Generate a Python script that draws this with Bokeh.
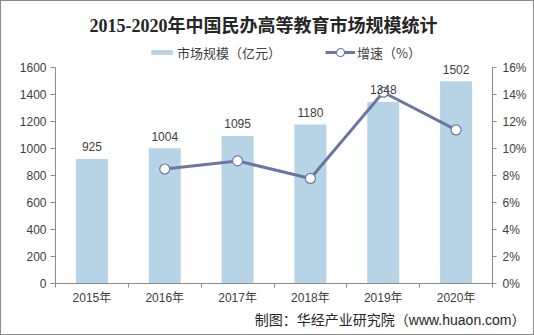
from bokeh.plotting import figure
from bokeh.models import (Range1d, LinearAxis, FixedTicker, PrintfTickFormatter,
                          ColumnDataSource, LabelSet, Label, Legend, LegendItem, Title)
from bokeh.core.properties import value
from bokeh.embed import file_html
from bokeh.resources import INLINE

# ---- data ----
years = ["2015年", "2016年", "2017年", "2018年", "2019年", "2020年"]
market = [925, 1004, 1095, 1180, 1348, 1502]          # 市场规模（亿元）
growth_years = ["2016年", "2017年", "2018年", "2019年", "2020年"]
growth = [8.5, 9.1, 7.8, 14.2, 11.4]                    # 增速（%）
left_ticks = [0, 200, 400, 600, 800, 1000, 1200, 1400, 1600]
right_ticks = [0, 2, 4, 6, 8, 10, 12, 14, 16]

BAR = "#b7d3e6"
LINE = "#6c77a1"
AX = "#8c8c8c"
TXT = "#404040"
FONT = "Liberation Sans, Noto Sans CJK SC"
CJK = "Noto Sans CJK SC"

# layout (page pixels; page has a 1px border)
FL, FR, FB, FT = 55, 490, 281, 2      # frame edges
AXIS_TOP = 67                          # where the top tick sits
scale = (FB - FT) / (FB - AXIS_TOP)

xpos = [i + 0.5 for i in range(len(years))]
gpos = [years.index(y) + 0.5 for y in growth_years]

p = figure(width=534, height=335, output_backend="svg", toolbar_location=None,
           title_location=None,
           x_range=Range1d(0, len(years)),
           y_range=Range1d(left_ticks[0], left_ticks[-1] * scale),
           min_border_left=FL - 1, min_border_right=533 - FR, min_border_top=FT - 1,
           min_border_bottom=334 - FB,
           background_fill_color="white", border_fill_color="white")
p.outline_line_color = None
p.xgrid.visible = False
p.ygrid.visible = False
p.extra_y_ranges = {"pct": Range1d(right_ticks[0], right_ticks[-1] * scale)}

bar_src = ColumnDataSource(dict(x=xpos, top=market, lab=[str(v) for v in market]))
bars = p.vbar(x="x", top="top", width=0.44, source=bar_src, fill_color=BAR, line_color=None)

line_src = ColumnDataSource(dict(x=gpos, y=growth))
ln = p.line(x="x", y="y", source=line_src, y_range_name="pct", line_color=LINE, line_width=3)
pts = p.scatter(x="x", y="y", source=line_src, y_range_name="pct", size=10,
                fill_color="white", line_color=LINE, line_width=1.2)

labels = LabelSet(x="x", y="top", text="lab", source=bar_src, text_align="center",
                  text_baseline="middle", y_offset=12, text_font_size=value("12px"),
                  text_font=value(FONT), text_color=TXT)
p.add_layout(labels)

# axes
xa = p.xaxis[0]
xa.ticker = FixedTicker(ticks=xpos, minor_ticks=list(range(len(years) + 1)))
xa.major_label_overrides = {x: y for x, y in zip(xpos, years)}
xa.major_tick_out = 0
xa.major_tick_in = 0
xa.minor_tick_out = 4
xa.minor_tick_in = 0
xa.major_label_standoff = 3
xa.axis_line_color = AX
xa.minor_tick_line_color = AX
xa.major_label_text_font = FONT
xa.major_label_text_font_size = "12px"
xa.major_label_text_color = TXT

ya = p.yaxis[0]
ya.ticker = FixedTicker(ticks=left_ticks)
ya.bounds = (left_ticks[0], left_ticks[-1])
ya.major_tick_out = 5
ya.major_tick_in = 0
ya.minor_tick_line_color = None
ya.major_label_standoff = 4
ya.axis_line_color = AX
ya.major_tick_line_color = AX
ya.major_label_text_font = FONT
ya.major_label_text_font_size = "12px"
ya.major_label_text_color = TXT

ra = LinearAxis(y_range_name="pct", ticker=FixedTicker(ticks=right_ticks),
                formatter=PrintfTickFormatter(format="%d%%"),
                bounds=(right_ticks[0], right_ticks[-1]))
ra.major_tick_out = 4
ra.major_tick_in = 0
ra.minor_tick_line_color = None
ra.major_label_standoff = 6
ra.axis_line_color = AX
ra.major_tick_line_color = AX
ra.major_label_text_font = FONT
ra.major_label_text_font_size = "12px"
ra.major_label_text_color = TXT
p.add_layout(ra, "right")


def sx(cx):
    return cx - FL


def sy(cy):
    return FB - cy


# legends (location = bottom-left corner relative to the frame)
LEG_CY = 50
leg1 = Legend(items=[LegendItem(label="市场规模（亿元）", renderers=[bars])],
              location=(sx(148), sy(LEG_CY + 10)), orientation="horizontal",
              glyph_width=27, glyph_height=6, label_height=20, label_standoff=2,
              padding=0, margin=0, spacing=0, border_line_color=None,
              background_fill_alpha=0, label_text_font=CJK, label_text_font_size="13px",
              label_text_color=TXT)
leg2 = Legend(items=[LegendItem(label="增速（%）", renderers=[ln, pts])],
              location=(sx(325), sy(LEG_CY + 10)), orientation="horizontal",
              glyph_width=30, glyph_height=20, label_height=20, label_standoff=2,
              padding=0, margin=0, spacing=0, border_line_color=None,
              background_fill_alpha=0, label_text_font=CJK, label_text_font_size="13px",
              label_text_color=TXT)
p.add_layout(leg1)
p.add_layout(leg2)

# title
p.add_layout(Label(x=sx(263), y=sy(23), x_units="screen", y_units="screen",
                   text="2015-2020年中国民办高等教育市场规模统计", text_align="center",
                   text_baseline="middle", text_font="Liberation Serif, Noto Sans CJK SC",
                   text_font_style="bold", text_font_size="18px", text_color="#262626"))

# source note below the axis
foot = Title(text="制图：华经产业研究院（www.huaon.com）", align="right", offset=-33,
             standoff=4, text_font=FONT, text_font_size="14px", text_color="#262626",
             text_font_style="normal")
p.add_layout(foot, "below")

p.styles = {"border": "1px solid #8a8a8a", "box-sizing": "border-box"}

open("out.html", "w").write(file_html(p, INLINE))
